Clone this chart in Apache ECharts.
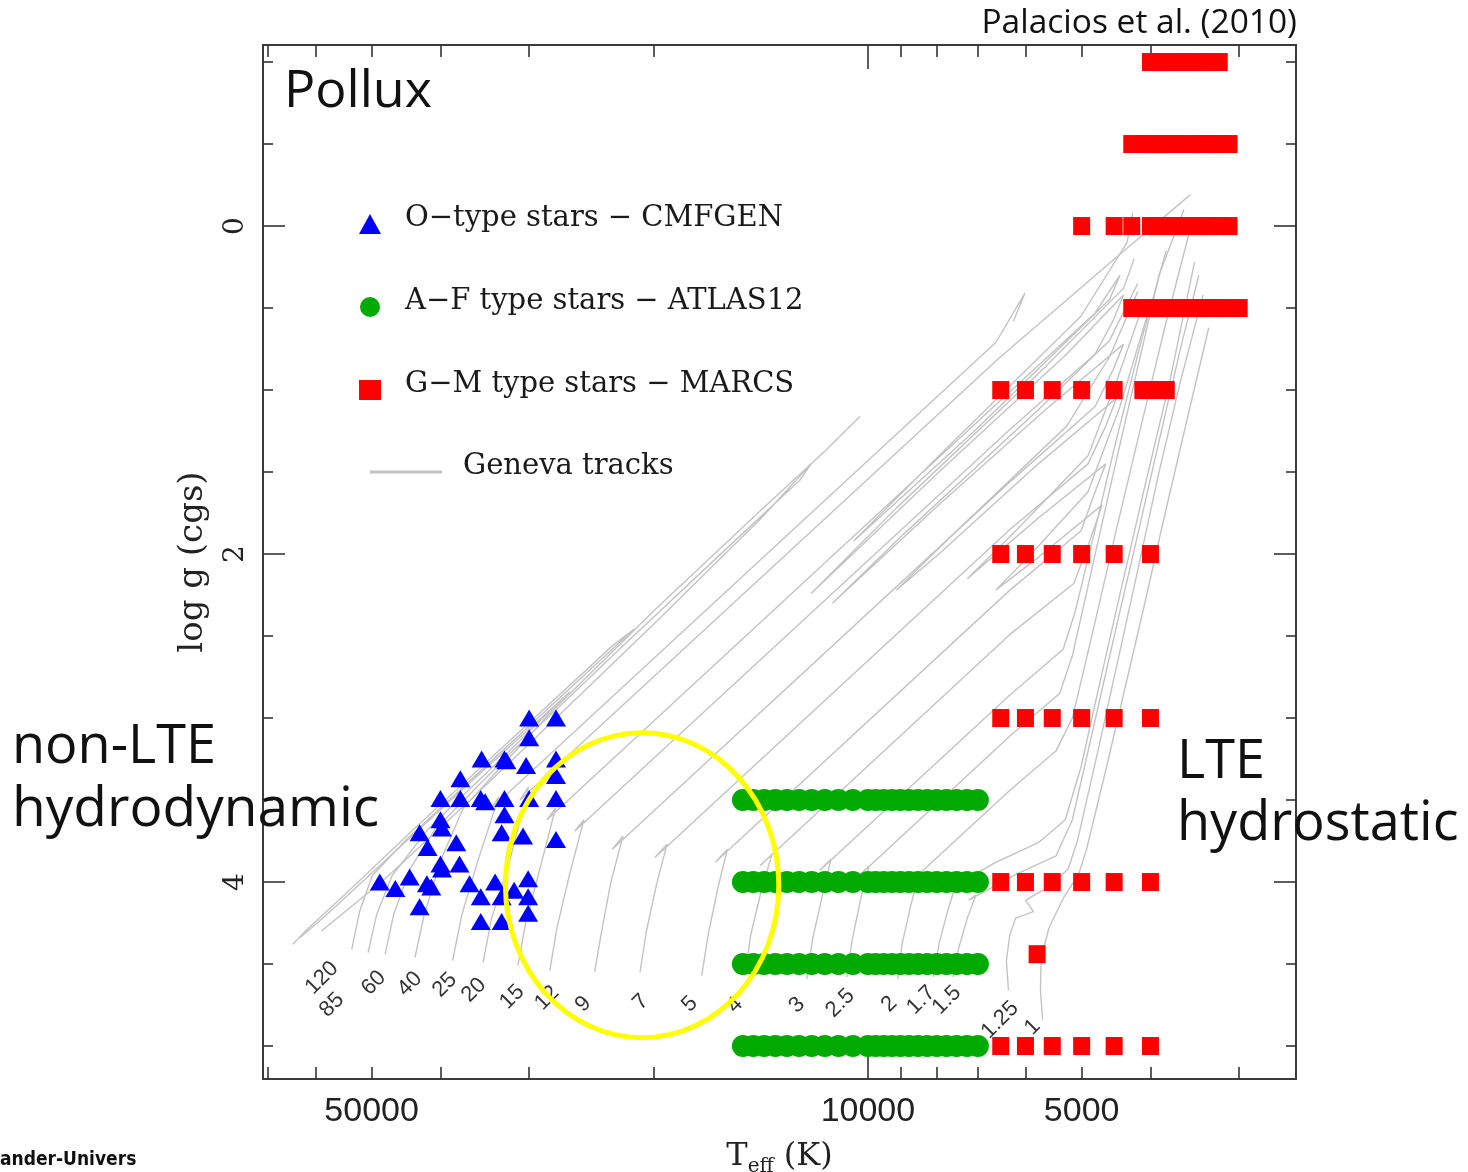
<!DOCTYPE html>
<html><head><meta charset="utf-8">
<script src="https://cdn.jsdelivr.net/npm/echarts@6/dist/echarts.min.js"></script>
<style>html,body{margin:0;padding:0;background:#fff}#chart{width:1468px;height:1172px}</style>
</head><body><div id="chart"></div>
<script>
// ---------- axes ----------
const teffRange = [2495, 71120];            // right edge, left edge (K)
const loggRange = [-1.104, 5.201];          // top, bottom
const xMinorTickTeff = [70000,60000,50000,40000,30000,20000,9000,8000,7000,6000,5000,4000,3000];
const xMajorTickTeff = [10000];
const xLabelTeff = [50000, 10000, 5000];
const yMinorTicks = [-1,-0.5,0.5,1,1.5,2.5,3,3.5,4.5,5];
const yMajorTicks = [0, 2, 4];

// ---------- O-type stars (CMFGEN) ----------
const oTeff = [30000,27500,30000,35000,32500,32300,30300,27500,27500,37500,
               40000,37500,35100,34600,32500,30000,27500,32500,40000,39800,
               42800,32800,30600,27500,38000,41700,40000,39800,37600,48700,
               44200,46300,41800,41200,36400,33500,30100,31500,35100,32800,
               30100,42800,30100,35100,32800];
const oLogg = [3.00,3.00,3.12,3.25,3.25,3.26,3.29,3.25,3.35,3.37,
               3.49,3.49,3.49,3.51,3.49,3.49,3.49,3.59,3.62,3.67,
               3.70,3.70,3.72,3.74,3.76,3.79,3.89,3.92,3.89,4.00,
               3.97,4.04,4.01,4.03,4.01,4.00,3.98,4.05,4.09,4.09,
               4.09,4.15,4.19,4.24,4.24];

// ---------- A-F stars (ATLAS12) ----------
const atlasTeff = [15000,14500,14000,13500,13000,12500,12000,11500,11000,10500,10000,
                   9750,9500,9250,9000,8750,8500,8250,8000,7750,7500,7250,7000];
const atlasLogg = [3.5, 4.0, 4.5, 5.0];

// ---------- G-M stars (MARCS) ----------
const marcsLogg = [-1.0, -0.5, 0.0, 0.5, 1.0, 2.0, 3.0, 4.0, 4.44, 5.0];
const marcsTeff = [
  [4000,3900,3800,3700,3600,3500,3400,3300,3200],
  [4250,4100,4000,3900,3800,3700,3600,3500,3400,3300,3200,3100],
  [5000,4500,4250,4000,3900,3800,3700,3600,3500,3400,3300,3200,3100],
  [4250,4100,4000,3900,3800,3700,3600,3500,3400,3300,3200,3100,3000],
  [6500,6000,5500,5000,4500,4100,4000,3900,3800],
  [6500,6000,5500,5000,4500,4000],
  [6500,6000,5500,5000,4500,4000],
  [6500,6000,5500,5000,4500,4000],
  [5777],
  [6500,6000,5500,5000,4500,4000]
];

// ---------- Geneva tracks, [log Teff, log g] ----------
const track120 = [[4.727,4.41],[4.716,4.18],[4.698,3.96],[4.650,3.74],[4.520,3.22],[4.380,2.66],[4.330,2.46],[4.360,2.56],[4.500,3.12],[4.640,3.68],[4.740,4.09],[4.790,4.29],[4.810,4.38]];
const track85  = [[4.704,4.43],[4.692,4.20],[4.670,3.96],[4.620,3.68],[4.500,3.18],[4.420,2.84],[4.440,2.92],[4.580,3.47],[4.700,3.95],[4.760,4.19],[4.800,4.34]];
const track60  = [[4.680,4.44],[4.668,4.20],[4.645,3.92],[4.610,3.68],[4.500,3.20],[4.350,2.58],[4.200,1.97],[4.096,1.55],[4.080,1.45],[4.150,1.78],[4.300,2.42],[4.420,2.92],[4.560,3.50],[4.680,3.98],[4.770,4.30]];
const track40  = [[4.638,4.46],[4.625,4.20],[4.600,3.85],[4.570,3.55],[4.450,2.98],[4.300,2.34],[4.150,1.73],[4.060,1.37],[4.011,1.16]];
const track25  = [[4.585,4.48],[4.572,4.20],[4.550,3.88],[4.520,3.48],[4.530,3.55],[3.820,0.71],[3.779,0.41],[3.795,0.58]];
const track20  = [[4.542,4.49],[4.530,4.22],[4.505,3.88],[4.478,3.42],[4.490,3.50],[3.814,0.80],[3.631,0.12],[3.546,-0.19]];
const track15  = [[4.493,4.51],[4.482,4.25],[4.462,3.92],[4.440,3.55],[4.452,3.62],[3.800,1.01],[3.680,0.53],[3.645,0.30],[3.660,0.45],[3.850,1.25],[4.020,1.92],[3.900,1.40],[3.700,0.55],[3.635,0.10],[3.627,-0.08]];
const track12  = [[4.448,4.54],[4.438,4.28],[4.420,3.95],[4.400,3.62],[4.413,3.69],[3.800,1.24],[3.680,0.78],[3.655,0.58],[3.640,0.42],[3.720,0.78],[3.900,1.50],[4.080,2.24],[3.960,1.72],[3.760,0.90],[3.640,0.38],[3.625,0.20]];
const track9   = [[4.385,4.55],[4.375,4.30],[4.362,4.00],[4.345,3.72],[4.360,3.80],[3.800,1.56],[3.680,1.10],[3.655,0.88],[3.640,0.72],[3.750,1.12],[3.900,1.70],[4.050,2.30],[3.950,1.88],[3.760,1.12],[3.660,0.70],[3.620,0.35]];
const track7   = [[4.321,4.55],[4.312,4.30],[4.298,4.02],[4.283,3.77],[4.300,3.85],[3.800,1.85],[3.690,1.45],[3.665,1.22],[3.650,1.05],[3.760,1.45],[3.900,2.00],[3.960,2.22],[3.880,1.88],[3.720,1.22],[3.660,0.80],[3.620,0.40]];
const track5   = [[4.234,4.57],[4.225,4.32],[4.212,4.05],[4.198,3.80],[4.215,3.88],[3.800,2.22],[3.700,1.86],[3.680,1.62],[3.665,1.45],[3.760,1.78],[3.860,2.15],[3.790,1.85],[3.690,1.40],[3.650,0.95],[3.610,0.45]];
const track4   = [[4.173,4.57],[4.165,4.32],[4.150,4.05],[4.135,3.83],[4.152,3.90],[3.800,2.49],[3.710,2.18],[3.690,1.95],[3.670,1.70],[3.760,2.02],[3.820,2.22],[3.770,2.00],[3.690,1.62],[3.645,1.10],[3.600,0.45]];
const track3   = [[4.086,4.59],[4.078,4.35],[4.064,4.08],[4.052,3.86],[4.068,3.93],[3.800,2.86],[3.725,2.58],[3.708,2.35],[3.680,1.85],[3.650,1.30],[3.615,0.70],[3.580,0.15]];
const track2p5 = [[4.030,4.58],[4.022,4.35],[4.010,4.10],[3.998,3.90],[4.012,3.96],[3.800,3.11],[3.730,2.85],[3.712,2.62],[3.685,2.10],[3.655,1.52],[3.622,0.90],[3.590,0.30],[3.555,-0.10]];
const track2   = [[3.958,4.59],[3.952,4.38],[3.940,4.15],[3.928,3.95],[3.940,4.00],[3.800,3.44],[3.735,3.20],[3.712,3.00],[3.682,2.45],[3.650,1.85],[3.617,1.25],[3.582,0.62],[3.548,0.05]];
const track1p7 = [[3.908,4.58],[3.900,4.38],[3.888,4.18],[3.875,4.00],[3.885,4.04],[3.820,3.88],[3.760,3.76],[3.722,3.62],[3.700,3.30],[3.670,2.72],[3.640,2.15],[3.608,1.55],[3.575,0.95],[3.540,0.22]];
const track1p5 = [[3.880,4.58],[3.872,4.40],[3.860,4.22],[3.848,4.08],[3.858,4.11],[3.790,3.95],[3.735,3.84],[3.712,3.62],[3.682,3.05],[3.652,2.48],[3.622,1.92],[3.592,1.35],[3.560,0.75],[3.534,0.30]];
const track1p25= [[3.802,4.66],[3.805,4.48],[3.800,4.32],[3.792,4.22],[3.767,4.18],[3.778,4.11],[3.745,4.03],[3.718,3.92],[3.705,3.75],[3.676,3.20],[3.648,2.65],[3.620,2.10],[3.590,1.50],[3.560,0.95],[3.528,0.42]];
const track1   = [[3.754,4.84],[3.757,4.66],[3.756,4.46],[3.745,4.28],[3.725,4.10],[3.703,3.95],[3.692,3.80],[3.664,3.30],[3.637,2.80],[3.610,2.30],[3.584,1.80],[3.557,1.30],[3.520,0.62]];
const tracks = [track120,track85,track60,track40,track25,track20,track15,track12,track9,track7,track5,track4,track3,track2p5,track2,track1p7,track1p5,track1p25,track1];

// mass labels and their positions [log Teff, log g]
const massNames = ['120','85','60','40','25','20','15','12','9','7','5','4','3','2.5','2','1.7','1.5','1.25','1'];
const massLabelPos = [[4.769,4.585],[4.755,4.750],[4.696,4.616],[4.645,4.622],[4.596,4.628],[4.555,4.659],[4.501,4.701],
  [4.452,4.707],[4.401,4.744],[4.320,4.732],[4.251,4.744],[4.187,4.750],[4.100,4.750],[4.039,4.738],[3.970,4.744],
  [3.925,4.720],[3.889,4.720],[3.814,4.841],[3.768,4.884]];

// yellow highlight ellipse (bounding Teff, log g)
const ellipseTeff = [32400, 13350];
const ellipseLogg = [3.09, 4.95];

// ---------- build ----------
const lg = Math.log10;
const xMin = lg(teffRange[0]), xMax = lg(teffRange[1]);
const nameO = 'O\u2212type stars \u2212 CMFGEN';
const nameA = 'A\u2212F type stars \u2212 ATLAS12';
const nameG = 'G\u2212M type stars \u2212 MARCS';
const nameT = 'Geneva tracks';
const trackColor = '#c3c3c3';

const oData = oTeff.map((t,i)=>[lg(t), oLogg[i]]);
const aData = [];
atlasLogg.forEach(g => atlasTeff.forEach(t => aData.push([lg(t), g])));
const mData = [];
marcsLogg.forEach((g,i) => marcsTeff[i].forEach(t => mData.push([lg(t), g])));

const tickLine = {color:'#333', width:1.6};
const xBase = {type:'value', gridIndex:0, min:xMin, max:xMax, inverse:true,
  axisLine:{show:false, onZero:false}, splitLine:{show:false}, axisLabel:{show:false}, axisPointer:{show:false}};
const yBase = {type:'value', gridIndex:0, min:loggRange[0], max:loggRange[1], inverse:true,
  axisLine:{show:false, onZero:false}, splitLine:{show:false}, axisLabel:{show:false}, axisPointer:{show:false}};

const serif = 'DejaVu Serif';
const legendText = {fontFamily:serif, fontSize:29, color:'#1a1a1a', padding:[0,0,0,19],
  rich:{t:{fontFamily:serif, fontSize:29, color:'#1a1a1a', lineHeight:30, verticalAlign:'top'},
        g:{fontSize:2, lineHeight:40, width:1}}};
const option = {
  animation:false,
  backgroundColor:'#ffffff',
  grid:{left:263, top:45, width:1033, height:1034, show:true, borderColor:'#3a3a3a', borderWidth:2,
        backgroundColor:'rgba(0,0,0,0)', outerBoundsMode:'none', containLabel:false},
  xAxis:[
    Object.assign({}, xBase, {position:'bottom',
      axisTick:{show:true, inside:true, length:12, customValues:xMinorTickTeff.map(lg), lineStyle:tickLine},
      axisLabel:{show:true, customValues:xLabelTeff.map(lg), formatter:v=>String(Math.round(Math.pow(10,v))),
        fontSize:34, fontFamily:'Liberation Sans', color:'#222', margin:16},
      name:'{t|T}{s|eff}{t| (K)}', nameLocation:'middle', nameGap:62,
      nameTextStyle:{rich:{
        t:{fontFamily:serif, fontSize:32, color:'#222', verticalAlign:'top', lineHeight:36},
        s:{fontFamily:serif, fontSize:20, color:'#222', verticalAlign:'bottom', lineHeight:20, padding:[22,0,0,0]}
      }}}),
    Object.assign({}, xBase, {position:'bottom', axisTick:{show:true, inside:true, length:24, customValues:xMajorTickTeff.map(lg), lineStyle:tickLine}}),
    Object.assign({}, xBase, {position:'top', axisTick:{show:true, inside:true, length:12, customValues:xMinorTickTeff.map(lg), lineStyle:tickLine}}),
    Object.assign({}, xBase, {position:'top', axisTick:{show:true, inside:true, length:24, customValues:xMajorTickTeff.map(lg), lineStyle:tickLine}})
  ],
  yAxis:[
    Object.assign({}, yBase, {position:'left',
      axisTick:{show:true, inside:true, length:22, customValues:yMajorTicks, lineStyle:tickLine},
      axisLabel:{show:true, customValues:yMajorTicks, rotate:90, fontSize:28, fontFamily:serif, color:'#222', margin:13},
      name:'log g (cgs)', nameLocation:'middle', nameGap:53, nameRotate:90,
      nameTextStyle:{fontFamily:serif, fontSize:34, color:'#222'}}),
    Object.assign({}, yBase, {position:'left', axisTick:{show:true, inside:true, length:10, customValues:yMinorTicks, lineStyle:tickLine}}),
    Object.assign({}, yBase, {position:'right', axisTick:{show:true, inside:true, length:22, customValues:yMajorTicks, lineStyle:tickLine}}),
    Object.assign({}, yBase, {position:'right', axisTick:{show:true, inside:true, length:10, customValues:yMinorTicks, lineStyle:tickLine}})
  ],
  legend:[
    {orient:'vertical', left:359, top:204, padding:0, itemWidth:22, itemHeight:20, itemGap:53, selectedMode:false,
     data:[nameO, nameA, nameG], formatter:n=>'{t|'+n+'}{g| }', textStyle:legendText},
    {orient:'vertical', left:370, top:452, padding:0, itemWidth:72, itemHeight:3, selectedMode:false,
     data:[{name:nameT, icon:'rect', itemStyle:{color:trackColor}}], formatter:n=>'{t|'+n+'}{g| }',
     textStyle:Object.assign({}, legendText, {padding:[0,0,0,16]})}
  ],
  series: [
    ...tracks.map(tr => ({name:nameT, type:'line', data:tr, symbol:'none', showSymbol:false, silent:true,
      color:trackColor, itemStyle:{color:trackColor}, lineStyle:{color:trackColor, width:1.4}, z:1})),
    {name:'massLabels', type:'scatter', data:massLabelPos.map((p,i)=>[p[0],p[1],massNames[i]]),
      symbolSize:0.1, itemStyle:{color:'rgba(0,0,0,0)'}, silent:true, z:3,
      label:{show:true, formatter:p=>p.data[2], position:'inside', rotate:45, fontSize:22,
        fontFamily:'Liberation Sans', color:'#000'}},
    {name:nameO, type:'scatter', data:oData, symbol:'triangle', symbolSize:[20,17], itemStyle:{color:'#0000ff', opacity:1}, z:5, silent:true},
    {name:nameA, type:'scatter', data:aData, symbol:'circle', symbolSize:22, itemStyle:{color:'#00aa00', opacity:1}, z:5, silent:true},
    {name:nameG, type:'scatter', data:mData, symbol:'rect', symbolSize:[17,18], itemStyle:{color:'#ff0000', opacity:1}, z:5, silent:true}
  ]
};

const chart = echarts.init(document.getElementById('chart'), null, {renderer:'canvas'});
chart.setOption(option);

const p1 = chart.convertToPixel({xAxisIndex:0, yAxisIndex:0}, [lg(ellipseTeff[0]), ellipseLogg[0]]);
const p2 = chart.convertToPixel({xAxisIndex:0, yAxisIndex:0}, [lg(ellipseTeff[1]), ellipseLogg[1]]);
const gsans = 'Open Sans';
chart.setOption({graphic:[
  {type:'ellipse', id:'ring', z:100, silent:true,
   shape:{cx:(p1[0]+p2[0])/2, cy:(p1[1]+p2[1])/2, rx:Math.abs(p2[0]-p1[0])/2, ry:Math.abs(p2[1]-p1[1])/2},
   style:{fill:'none', stroke:'#ffff00', lineWidth:5}},
  {type:'text', id:'cite', z:100, x:1297, y:23, style:{text:'Palacios et al. (2010)', fontFamily:gsans, fontSize:33.5, fill:'#111', align:'right', verticalAlign:'middle'}},
  {type:'text', id:'pollux', z:100, x:284, y:92, style:{text:'Pollux', fontFamily:gsans, fontSize:52, fill:'#111', align:'left', verticalAlign:'middle'}},
  {type:'text', id:'nlte1', z:100, x:12, y:748, style:{text:'non-LTE', fontFamily:gsans, fontSize:54, fill:'#111', align:'left', verticalAlign:'middle'}},
  {type:'text', id:'nlte2', z:100, x:12, y:810, style:{text:'hydrodynamic', fontFamily:gsans, fontSize:55, fill:'#111', align:'left', verticalAlign:'middle'}},
  {type:'text', id:'lte1', z:100, x:1177, y:763, style:{text:'LTE', fontFamily:gsans, fontSize:54, fill:'#111', align:'left', verticalAlign:'middle'}},
  {type:'text', id:'lte2', z:100, x:1177, y:825, style:{text:'hydrostatic', fontFamily:gsans, fontSize:54, fill:'#111', align:'left', verticalAlign:'middle'}},
  {type:'text', id:'univ', z:100, x:0, y:1160, style:{text:'ander-Univers', fontFamily:"'DejaVu Sans Condensed', 'Liberation Sans', sans-serif", fontWeight:'bold', fontSize:19, fill:'#111', align:'left', verticalAlign:'middle'}}
]});
</script>
</body></html>
